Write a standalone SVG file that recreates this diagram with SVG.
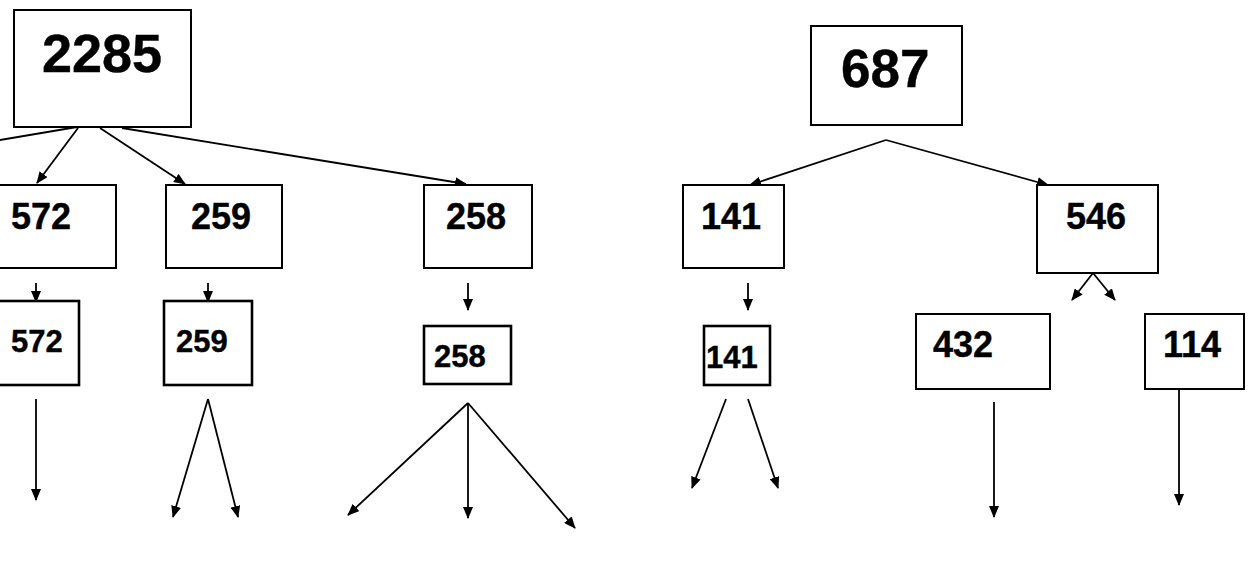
<svg xmlns="http://www.w3.org/2000/svg" width="1249" height="563" viewBox="0 0 1249 563">
<style>
.box{fill:#fff;stroke:#000;stroke-width:2}
.thick{stroke-width:2.6}
.t{font-family:"Liberation Sans",Arial,sans-serif;font-weight:bold;fill:#000;stroke:#000;stroke-width:0.4}
.c{stroke:#000;stroke-width:1.8;fill:none}
.a{marker-end:url(#ah)}
</style>
<defs>
<marker id="ah" markerUnits="userSpaceOnUse" markerWidth="12" markerHeight="10" refX="11" refY="5" orient="auto">
<path d="M0,0 L12,5 L0,10 z" fill="#000"/>
</marker>
</defs>
<rect width="1249" height="563" fill="#fff"/>
<g id="connectors">
<line class="c" x1="77" y1="127" x2="0" y2="140"/>
<line class="c a" x1="78" y1="128" x2="37" y2="183"/>
<line class="c a" x1="100" y1="128" x2="185" y2="184"/>
<line class="c a" x1="122" y1="128" x2="466" y2="184"/>
<line class="c a" x1="36" y1="283" x2="36" y2="302"/>
<line class="c a" x1="208" y1="283" x2="208" y2="302"/>
<line class="c a" x1="468" y1="283" x2="468" y2="310"/>
<line class="c a" x1="36" y1="399" x2="36" y2="500"/>
<line class="c a" x1="208" y1="399" x2="173" y2="517"/>
<line class="c a" x1="208" y1="399" x2="238" y2="517"/>
<line class="c a" x1="468" y1="403" x2="348" y2="515"/>
<line class="c a" x1="468" y1="403" x2="468" y2="518"/>
<line class="c a" x1="468" y1="403" x2="575" y2="528"/>
<line class="c a" x1="886" y1="140" x2="750" y2="185"/>
<line class="c a" x1="886" y1="140" x2="1048" y2="185"/>
<line class="c a" x1="748" y1="283" x2="748" y2="310"/>
<line class="c a" x1="726" y1="399" x2="692" y2="488"/>
<line class="c a" x1="748" y1="399" x2="778" y2="488"/>
<line class="c a" x1="1093" y1="273" x2="1072" y2="300"/>
<line class="c a" x1="1093" y1="273" x2="1115" y2="300"/>
<line class="c a" x1="994" y1="402" x2="994" y2="517"/>
<line class="c a" x1="1179" y1="389" x2="1179" y2="505"/>
</g>
<g id="n2285"><rect class="box" x="14" y="10" width="177" height="117"/><text class="t" x="42" y="72" font-size="54">2285</text></g>
<g id="n572"><rect class="box" x="-2" y="185" width="118" height="83"/><text class="t" x="11" y="229" font-size="36">572</text></g>
<g id="n259"><rect class="box" x="166" y="185" width="116" height="83"/><text class="t" x="191" y="229" font-size="36">259</text></g>
<g id="n258"><rect class="box" x="424" y="185" width="108" height="83"/><text class="t" x="446" y="229" font-size="36">258</text></g>
<g id="n572b"><rect class="box thick" x="-3" y="301" width="82" height="84"/><text class="t" x="11" y="352" font-size="31">572</text></g>
<g id="n259b"><rect class="box thick" x="164" y="301" width="88" height="84"/><text class="t" x="176" y="352" font-size="31">259</text></g>
<g id="n258b"><rect class="box thick" x="424" y="326" width="87" height="58"/><text class="t" x="434" y="367" font-size="31">258</text></g>
<g id="n687"><rect class="box" x="811" y="26" width="151" height="99"/><text class="t" x="841" y="87" font-size="53">687</text></g>
<g id="n141"><rect class="box" x="683" y="185" width="101" height="83"/><text class="t" x="701" y="229" font-size="36">141</text></g>
<g id="n141b"><rect class="box thick" x="704" y="326" width="66" height="59"/><text class="t" x="706" y="368" font-size="31">141</text></g>
<g id="n546"><rect class="box" x="1037" y="185" width="121" height="88"/><text class="t" x="1066" y="229" font-size="36">546</text></g>
<g id="n432"><rect class="box" x="916" y="314" width="134" height="75"/><text class="t" x="933" y="357" font-size="36">432</text></g>
<g id="n114"><rect class="box" x="1145" y="314" width="99" height="75"/><text class="t" x="1163" y="357" font-size="36">114</text></g>
</svg>
